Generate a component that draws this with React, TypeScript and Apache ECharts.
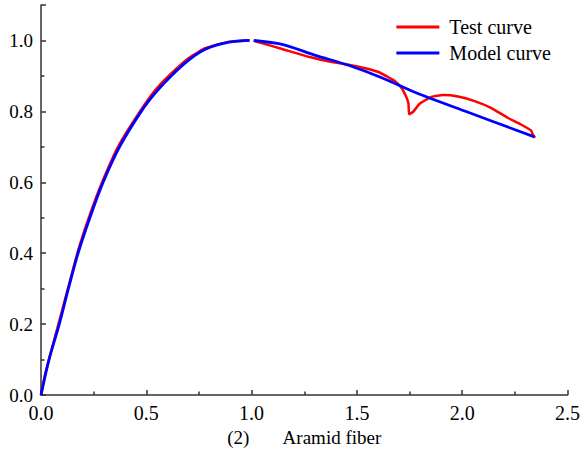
import React, { useEffect, useRef } from "react";
import * as echarts from "echarts";

// Model curve (blue)
const modelRiseX = [0, 0.038, 0.087, 0.13, 0.176, 0.232, 0.295, 0.373, 0.476, 0.547, 0.618, 0.704, 0.783, 0.893, 0.99];
const modelRiseY = [0, 0.1, 0.2, 0.3, 0.4, 0.5, 0.6, 0.7, 0.8, 0.855, 0.9, 0.946, 0.976, 0.995, 1.0];
const modelFallX = [1.01, 1.145, 1.303, 1.46, 1.618, 1.775, 2.012, 2.343];
const modelFallY = [1.0, 0.989, 0.958, 0.93, 0.895, 0.854, 0.801, 0.728];

// Test curve (red)
const testRiseX = [0, 0.02, 0.04, 0.085, 0.13, 0.175, 0.23, 0.29, 0.37, 0.47, 0.54, 0.61, 0.7, 0.78, 0.89, 0.99];
const testRiseY = [0, 0.06, 0.105, 0.205, 0.305, 0.405, 0.505, 0.6, 0.705, 0.8, 0.858, 0.902, 0.95, 0.978, 0.996, 1.0];
const testFallX = [1.01, 1.035, 1.145, 1.271, 1.381, 1.492, 1.602, 1.681, 1.712, 1.735, 1.745, 1.748, 1.767, 1.799, 1.854, 1.909, 1.98, 2.059, 2.137, 2.216, 2.279, 2.327, 2.335, 2.346];
const testFallY = [0.999, 0.995, 0.976, 0.954, 0.939, 0.928, 0.911, 0.885, 0.866, 0.84, 0.822, 0.792, 0.799, 0.822, 0.841, 0.846, 0.842, 0.829, 0.81, 0.782, 0.763, 0.746, 0.735, 0.726];

const seriesNames = ["Test curve", "Model curve"];
const xTitle = "(2)\u00a0\u00a0\u00a0\u00a0\u00a0\u00a0\u00a0Aramid fiber";

const pair = (xs: number[], ys: number[]) => xs.map((x, i) => [x, ys[i]]);

const FONT = "Liberation Serif, Times New Roman, serif";

export default function App() {
  const ref = useRef<HTMLDivElement>(null);
  useEffect(() => {
    if (!ref.current) return;
    const chart = echarts.init(ref.current, undefined, { renderer: "svg" });
    const gap: any = [1.0, "-"];
    const testData = [...pair(testRiseX, testRiseY), gap, ...pair(testFallX, testFallY)];
    const modelData = [...pair(modelRiseX, modelRiseY), gap, ...pair(modelFallX, modelFallY)];
    const axisColor = "#333";
    chart.setOption({
      animation: false,
      textStyle: { fontFamily: FONT },
      grid: { left: 41, right: 13, top: 5, bottom: 56, containLabel: false },
      legend: {
        orient: "vertical",
        right: 27,
        top: 12,
        itemGap: 6,
        itemWidth: 43,
        itemHeight: 3,
        icon: "rect",
        textStyle: { fontFamily: FONT, fontSize: 20, color: "#000", padding: [0, 0, 0, 5] },
        data: seriesNames,
      },
      xAxis: {
        type: "value",
        min: 0,
        max: 2.5,
        interval: 0.5,
        name: xTitle,
        nameLocation: "middle",
        nameGap: 31,
        nameTextStyle: { fontFamily: FONT, fontSize: 19, color: "#000" },
        axisLine: { show: true, lineStyle: { color: axisColor, width: 1.5 } },
        axisTick: { show: true, inside: true, length: 5, lineStyle: { color: axisColor, width: 1.5 } },
        minorTick: { show: true, splitNumber: 2, length: 3.5, lineStyle: { color: axisColor, width: 1.5 } },
        splitLine: { show: false },
        axisLabel: {
          fontFamily: FONT,
          fontSize: 20,
          color: "#000",
          margin: 8,
          formatter: (v: number) => v.toFixed(1),
        },
      },
      yAxis: {
        type: "value",
        min: 0,
        max: 1.1,
        interval: 0.2,
        axisLine: { show: true, lineStyle: { color: axisColor, width: 1.5 } },
        axisTick: { show: true, inside: true, length: 5, lineStyle: { color: axisColor, width: 1.5 } },
        minorTick: { show: true, splitNumber: 2, length: 3.5, lineStyle: { color: axisColor, width: 1.5 } },
        splitLine: { show: false },
        axisLabel: {
          fontFamily: FONT,
          fontSize: 19,
          color: "#000",
          margin: 8,
          showMaxLabel: false,
          formatter: (v: number) => v.toFixed(1),
        },
      },
      series: [
        {
          name: seriesNames[0],
          type: "line",
          data: testData,
          showSymbol: false,
          symbol: "none",
          smooth: 0.15,
          connectNulls: false,
          lineStyle: { color: "#ff0000", width: 2.5 },
          itemStyle: { color: "#ff0000" },
          z: 2,
        },
        {
          name: seriesNames[1],
          type: "line",
          data: modelData,
          showSymbol: false,
          symbol: "none",
          smooth: 0.3,
          connectNulls: false,
          lineStyle: { color: "#0000ff", width: 2.8 },
          itemStyle: { color: "#0000ff" },
          z: 3,
        },
      ],
    });
    return () => chart.dispose();
  }, []);
  return <div ref={ref} style={{ width: 583, height: 452, position: "absolute", left: 0, top: 0 }} />;
}
